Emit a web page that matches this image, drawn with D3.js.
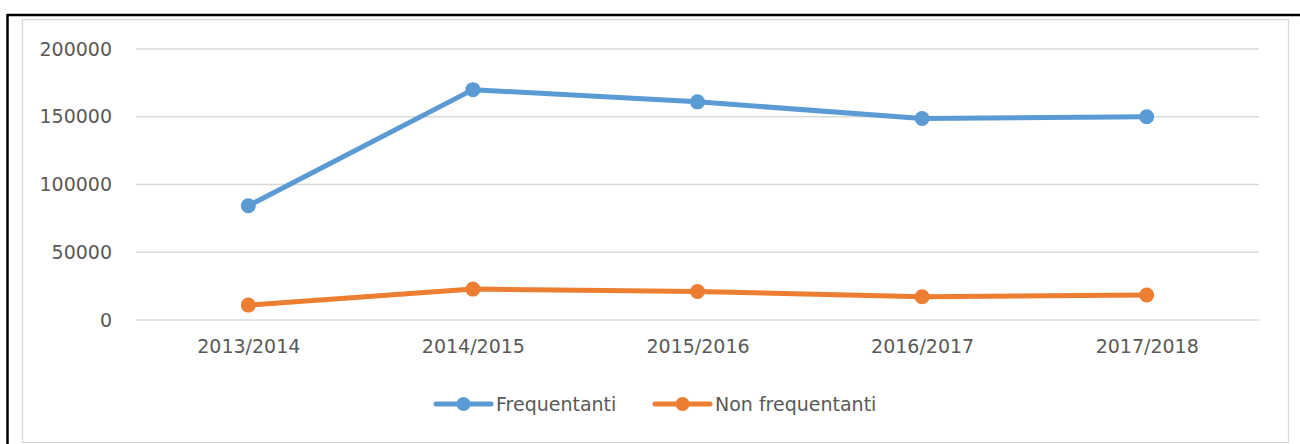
<!DOCTYPE html>
<html>
<head>
<meta charset="utf-8">
<script src="https://cdn.jsdelivr.net/npm/d3@7"></script>
<style>
  body { margin: 0; background: #fff; }
  text { font-family: "DejaVu Sans", sans-serif; fill: #595959; }
</style>
</head>
<body>
<div id="chart"></div>
<script>
// data
var years = ["2013/2014", "2014/2015", "2015/2016", "2016/2017", "2017/2018"];
var frequentanti = [84300, 170000, 161000, 148700, 150000];
var nonFrequentanti = [11000, 22800, 21000, 17200, 18400];
var yTicks = [0, 50000, 100000, 150000, 200000];
var seriesNames = ["Frequentanti", "Non frequentanti"];
var seriesColors = ["#5B9BD5", "#ED7D31"];

var W = 1300, H = 444;
var plot = {left: 136, right: 1259, top: 49, bottom: 320};

var svg = d3.select("#chart")
  .append("svg")
    .attr("width", W)
    .attr("height", H);

// outer frame (black top + left edge, gray chart border)
svg.append("line")
  .attr("x1", 7).attr("x2", W).attr("y1", 15).attr("y2", 15)
  .attr("stroke", "#000").attr("stroke-width", 2.5);
svg.append("line")
  .attr("x1", 7.5).attr("x2", 7.5).attr("y1", 14).attr("y2", H)
  .attr("stroke", "#000").attr("stroke-width", 2.5);
svg.append("rect")
  .attr("x", 22.5).attr("y", 19.5)
  .attr("width", 1266).attr("height", 423)
  .attr("fill", "none").attr("stroke", "#D9D9D9").attr("stroke-width", 1.3);

var x = d3.scalePoint()
  .domain(years)
  .range([plot.left, plot.right])
  .padding(0.5);

var y = d3.scaleLinear()
  .domain([0, 200000])
  .range([plot.bottom, plot.top]);

// gridlines
svg.append("g")
  .selectAll("line")
  .data(yTicks)
  .enter()
  .append("line")
    .attr("x1", plot.left).attr("x2", plot.right)
    .attr("y1", function(d) { return y(d); })
    .attr("y2", function(d) { return y(d); })
    .attr("stroke", "#D9D9D9")
    .attr("stroke-width", 1.3);

// y labels
var yAxis = svg.append("g")
  .attr("transform", "translate(" + plot.left + ",0)")
  .call(d3.axisLeft(y).tickValues(yTicks).tickSize(0).tickPadding(24).tickFormat(d3.format("d")));
yAxis.select(".domain").remove();
yAxis.selectAll("text")
  .attr("font-size", 19)
  .attr("font-family", null)
  .attr("fill", null);

// x labels
var xAxis = svg.append("g")
  .attr("transform", "translate(0," + plot.bottom + ")")
  .call(d3.axisBottom(x).tickSize(0).tickPadding(20));
xAxis.select(".domain").remove();
xAxis.selectAll("text")
  .attr("font-size", 19)
  .attr("font-family", null)
  .attr("fill", null);

var series = [frequentanti, nonFrequentanti];

var line = d3.line()
  .x(function(d, i) { return x(years[i]); })
  .y(function(d) { return y(d); });

series.forEach(function(vals, k) {
  svg.append("path")
    .datum(vals)
    .attr("d", line)
    .attr("fill", "none")
    .attr("stroke", seriesColors[k])
    .attr("stroke-width", 5)
    .attr("stroke-linejoin", "round");

  svg.append("g")
    .selectAll("circle")
    .data(vals)
    .enter()
    .append("circle")
      .attr("cx", function(d, i) { return x(years[i]); })
      .attr("cy", function(d) { return y(d); })
      .attr("r", 7.5)
      .attr("fill", seriesColors[k]);
});

// legend
var legendX = [436, 655];
var legendY = 404;
seriesNames.forEach(function(name, k) {
  var g = svg.append("g").attr("transform", "translate(" + legendX[k] + "," + legendY + ")");
  g.append("line")
    .attr("x1", 0).attr("x2", 55).attr("y1", 0).attr("y2", 0)
    .attr("stroke", seriesColors[k]).attr("stroke-width", 5)
    .attr("stroke-linecap", "round");
  g.append("circle")
    .attr("cx", 27.5).attr("cy", 0).attr("r", 7)
    .attr("fill", seriesColors[k]);
  g.append("text")
    .attr("x", 60).attr("y", 0)
    .attr("dy", "0.35em")
    .attr("font-size", 19)
    .text(name);
});
</script>
</body>
</html>
